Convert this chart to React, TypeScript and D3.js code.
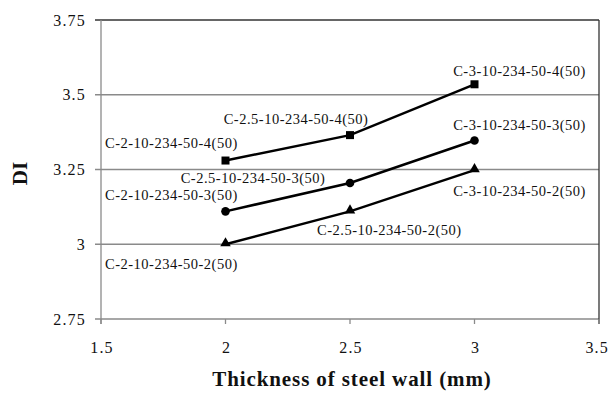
import React from "react";
import * as d3 from "d3";

const thickness = [2, 2.5, 3];
const di4 = [3.28, 3.365, 3.535];
const di3 = [3.11, 3.205, 3.347];
const di2 = [3.0, 3.11, 3.248];
const labels4 = ["C-2-10-234-50-4(50)", "C-2.5-10-234-50-4(50)", "C-3-10-234-50-4(50)"];
const labels3 = ["C-2-10-234-50-3(50)", "C-2.5-10-234-50-3(50)", "C-3-10-234-50-3(50)"];
const labels2 = ["C-2-10-234-50-2(50)", "C-2.5-10-234-50-2(50)", "C-3-10-234-50-2(50)"];
const xTicks = [1.5, 2, 2.5, 3, 3.5];
const yTicks = [2.75, 3, 3.25, 3.5, 3.75];

const W = 610;
const H = 397;
const m = { left: 101, right: 599, top: 20, bottom: 319 };

const font = "'Liberation Serif', 'Times New Roman', serif";

export default function App() {
  const x = d3.scaleLinear().domain([1.5, 3.5]).range([m.left, m.right]);
  const y = d3.scaleLinear().domain([2.75, 3.75]).range([m.bottom, m.top]);
  const line = d3
    .line<number>()
    .x((_, i) => x(thickness[i]))
    .y((d) => y(d));

  // label placement relative to each point: [dx, dy, anchor]
  const leftPad = m.left + 4 - x(2);
  const lab4: [number, number, string][] = [
    [leftPad, -18, "start"],
    [-54, -16, "middle"],
    [45, -13, "middle"],
  ];
  const lab3: [number, number, string][] = [
    [leftPad, -16, "start"],
    [-97, -5, "middle"],
    [45, -15, "middle"],
  ];
  const lab2: [number, number, string][] = [
    [leftPad, 20, "start"],
    [-33, 19, "start"],
    [45, 21, "middle"],
  ];

  const textStyle = { fontFamily: font, fontSize: 14.5, letterSpacing: 0.5, fill: "#111" };

  const renderLabels = (vals: number[], labs: string[], pos: [number, number, string][]) =>
    vals.map((v, i) => (
      <text
        key={labs[i]}
        x={x(thickness[i]) + pos[i][0]}
        y={y(v) + pos[i][1] + 5}
        textAnchor={pos[i][2] as any}
        style={textStyle}
      >
        {labs[i]}
      </text>
    ));

  const tri = d3.symbol().type(d3.symbolTriangle).size(48)();

  return (
    <svg
      width={W}
      height={H}
      style={{ position: "absolute", left: 0, top: 0, background: "#fff" }}
    >
      {/* gridlines */}
      {yTicks.map((t) => (
        <line
          key={"g" + t}
          x1={m.left - 6}
          x2={m.right}
          y1={y(t)}
          y2={y(t)}
          stroke={t === 3.75 ? "#333" : "#8a8a8a"}
          strokeWidth={1.3}
        />
      ))}
      {/* axes frame */}
      <line x1={m.left} x2={m.left} y1={m.top} y2={m.bottom + 5} stroke="#8a8a8a" strokeWidth={1.3} />
      <line x1={m.right} x2={m.right} y1={m.top} y2={m.bottom + 5} stroke="#333" strokeWidth={1.3} />
      {xTicks.map((t) => (
        <line key={"xt" + t} x1={x(t)} x2={x(t)} y1={m.bottom} y2={m.bottom + 5} stroke="#8a8a8a" strokeWidth={1.3} />
      ))}
      {yTicks.map((t) => (
        <text
          key={"yl" + t}
          x={m.left - 15}
          y={y(t) + 5.5}
          textAnchor="end"
          style={{ fontFamily: font, fontSize: 16, letterSpacing: 1.2, fill: "#111" }}
        >
          {String(t)}
        </text>
      ))}
      {xTicks.map((t, i) => (
        <text
          key={"xl" + t}
          x={i === xTicks.length - 1 ? W - 1 : x(t) + 1}
          y={m.bottom + 34}
          textAnchor={i === xTicks.length - 1 ? "end" : "middle"}
          style={{ fontFamily: font, fontSize: 16, letterSpacing: 1.2, fill: "#111" }}
        >
          {String(t)}
        </text>
      ))}
      <text
        x={(m.left + m.right) / 2 + 2}
        y={386}
        textAnchor="middle"
        style={{ fontFamily: font, fontSize: 21, fontWeight: "bold", letterSpacing: 0.9, fill: "#111" }}
      >
        Thickness of steel wall (mm)
      </text>
      <text
        transform={`translate(27,${y(3.25) + 4}) rotate(-90)`}
        textAnchor="middle"
        style={{ fontFamily: font, fontSize: 21, fontWeight: "bold", fill: "#111" }}
      >
        DI
      </text>

      {/* series lines */}
      {[di4, di3, di2].map((s, k) => (
        <path key={"l" + k} d={line(s) || ""} fill="none" stroke="#000" strokeWidth={2.5} />
      ))}
      {di4.map((v, i) => (
        <rect key={"s" + i} x={x(thickness[i]) - 4} y={y(v) - 4} width={8} height={8} fill="#000" />
      ))}
      {di3.map((v, i) => (
        <circle key={"c" + i} cx={x(thickness[i])} cy={y(v)} r={4.3} fill="#000" />
      ))}
      {di2.map((v, i) => (
        <path key={"t" + i} d={tri || ""} transform={`translate(${x(thickness[i])},${y(v) - 1})`} fill="#000" />
      ))}

      {renderLabels(di4, labels4, lab4)}
      {renderLabels(di3, labels3, lab3)}
      {renderLabels(di2, labels2, lab2)}
    </svg>
  );
}
